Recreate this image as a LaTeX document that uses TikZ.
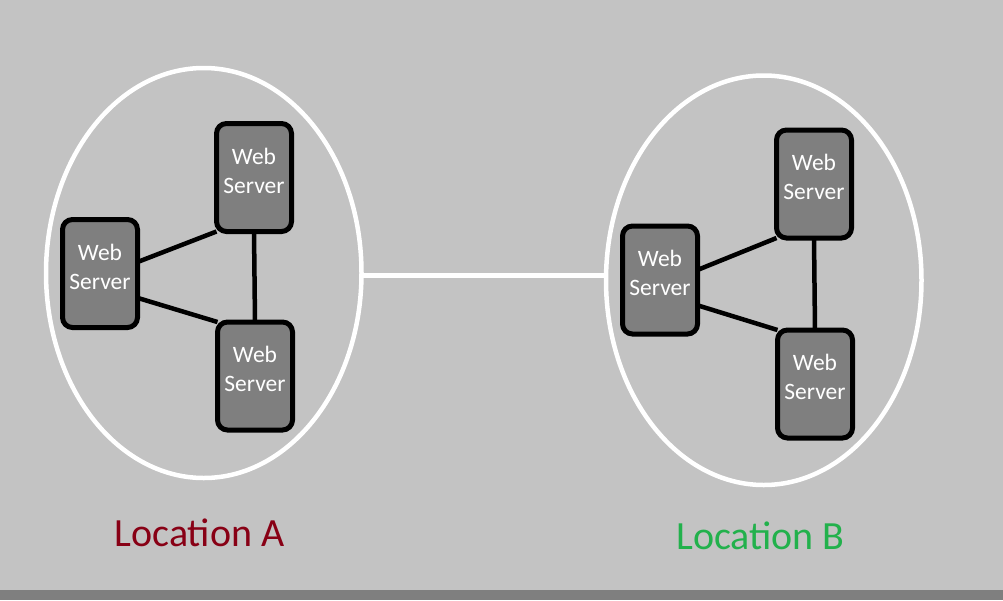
\documentclass[tikz,border=0pt]{standalone}
\usepackage{fontspec}
\setmainfont{Carlito}
\usetikzlibrary{shapes.geometric,backgrounds}
\definecolor{bgc}{RGB}{195,195,195}
\definecolor{boxc}{RGB}{127,127,127}
\definecolor{locA}{RGB}{136,0,21}
\definecolor{locB}{RGB}{34,177,76}
\begin{document}
\begin{tikzpicture}[x=1pt,y=-1pt,
  srv/.style={draw=black, line width=5pt, fill=boxc, rounded corners=10pt,
    minimum width=75pt, minimum height=108pt, inner sep=0pt, outer sep=0pt,
    label={[srvtxt]center:{Web\\Server}}},
  srvtxt/.style={text=white, align=center, font=\fontsize{23.5}{29}\selectfont, yshift=7pt},
  site/.style={ellipse, draw=white, line width=4.5pt, inner sep=0pt, outer sep=0pt},
  edge/.style={draw=black, line width=4.5pt},
  link/.style={draw=white, line width=5pt},
  loclabel/.style={anchor=base, font=\fontsize{40}{48}\selectfont, inner sep=0pt}]
\useasboundingbox (0,0) rectangle (1003,600);
\begin{scope}[on background layer]
  \fill[bgc] (0,0) rectangle (1003,600);
  \fill[boxc] (0,590) rectangle (1003,600);
\end{scope}
% sites
\node[site, minimum width=315.5pt, minimum height=410pt] (ellA) at (203.75,273) {};
\node[site, minimum width=315.5pt, minimum height=409.5pt] (ellB) at (763.75,280.25) {};
% servers A
\node[srv] (tA) at (254,177.5) {};
\node[srv] (lA) at (100,273.5) {};
\node[srv] (bA) at (255,376) {};
% servers B
\node[srv] (tB) at (814,184) {};
\node[srv] (lB) at (660,280) {};
\node[srv] (bB) at (815,384) {};
\begin{scope}[on background layer]
  \draw[edge] (lA.17) -- (tA.south west);
  \draw[edge] (lA.327) -- (bA.north west);
  \draw[edge] (tA.south) -- (bA.north);
  \draw[edge] (lB.15) -- (tB.south west);
  \draw[edge] (lB.326) -- (bB.north west);
  \draw[edge] (tB.south) -- (bB.north);
\end{scope}
\draw[link] ([yshift=-2pt]ellA.east) -- ([yshift=-2pt]ellA.east -| ellB.west);
% labels
\node[loclabel, text=locA] (labA) at (199.5,546.7) {Location A};
\node[loclabel, text=locB] (labB) at (760.5,549) {Location B};
\end{tikzpicture}
\end{document}
